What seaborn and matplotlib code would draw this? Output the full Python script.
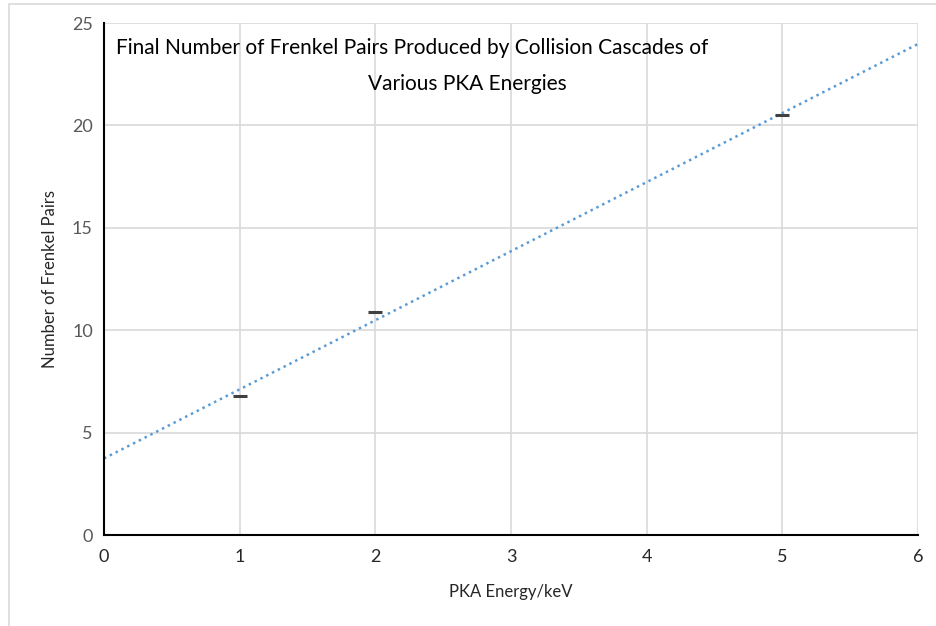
import numpy as np
import matplotlib
matplotlib.use("Agg")
import matplotlib.pyplot as plt
import seaborn as sns
import pandas as pd
from matplotlib.patches import Rectangle

# PKA energies (keV) and final Frenkel pair counts
pka_energy = [1, 2, 5]
frenkel_pairs = [6.8, 10.9, 20.5]

x_ticks = [0, 1, 2, 3, 4, 5, 6]
y_ticks = [0, 5, 10, 15, 20, 25]

title_line1 = "Final Number of Frenkel Pairs Produced by Collision Cascades of"
title_line2 = "Various PKA Energies"
x_label = "PKA Energy/keV"
y_label = "Number of Frenkel Pairs"

df = pd.DataFrame({"energy": pka_energy, "pairs": frenkel_pairs})

sns.set_theme(style="white")
plt.rcParams["font.family"] = ["Lato", "DejaVu Sans"]

W, H = 936, 626
fig = plt.figure(figsize=(W / 100, H / 100), dpi=100)
ax = fig.add_axes([104 / W, 1 - 535 / H, (918 - 104) / W, (535 - 23) / H])

# chart-area frame
fig.patches.append(Rectangle((9 / W, -0.05), 1.2, 1 - 4 / H + 0.05,
                             transform=fig.transFigure, fill=False,
                             edgecolor="#d9d9d9", linewidth=1.2, zorder=0))

ax.set_xlim(0, 6)
ax.set_ylim(0, 25)
ax.set_xticks(x_ticks)
ax.set_yticks(y_ticks)
ax.grid(True, color="#d9d9d9", linewidth=1.2)
ax.set_axisbelow(True)

# linear trendline across the full axis range
slope, intercept = np.polyfit(pka_energy, frenkel_pairs, 1)
xs = np.array([0, 6])
ax.plot(xs, slope * xs + intercept, linestyle=(0, (1, 1.6)), color="#5b9bd5",
        linewidth=1.8, zorder=2)

sns.scatterplot(data=df, x="energy", y="pairs", marker="_", s=110,
                linewidth=2.2, color="#404040", ax=ax, zorder=3)

for s in ["top", "right"]:
    ax.spines[s].set_visible(False)
ax.spines["left"].set_color("black")
ax.spines["bottom"].set_color("black")
ax.spines["left"].set_linewidth(1.5)
ax.spines["bottom"].set_linewidth(1.5)

ax.tick_params(axis="y", colors="#595959", labelsize=13, length=0, pad=8)
ax.tick_params(axis="x", colors="#262626", labelsize=13, length=0, pad=10)
ax.set_xlabel(x_label, fontsize=12, color="#262626", labelpad=14)
ax.set_ylabel(y_label, fontsize=12, color="#262626", labelpad=10)

fig.text(116 / W, 1 - 48 / H, title_line1, ha="left", va="center",
         fontsize=15, color="black")
fig.text(467 / W, 1 - 84 / H, title_line2, ha="center", va="center",
         fontsize=15, color="black")

fig.savefig("out.png", dpi=100, facecolor="white")
